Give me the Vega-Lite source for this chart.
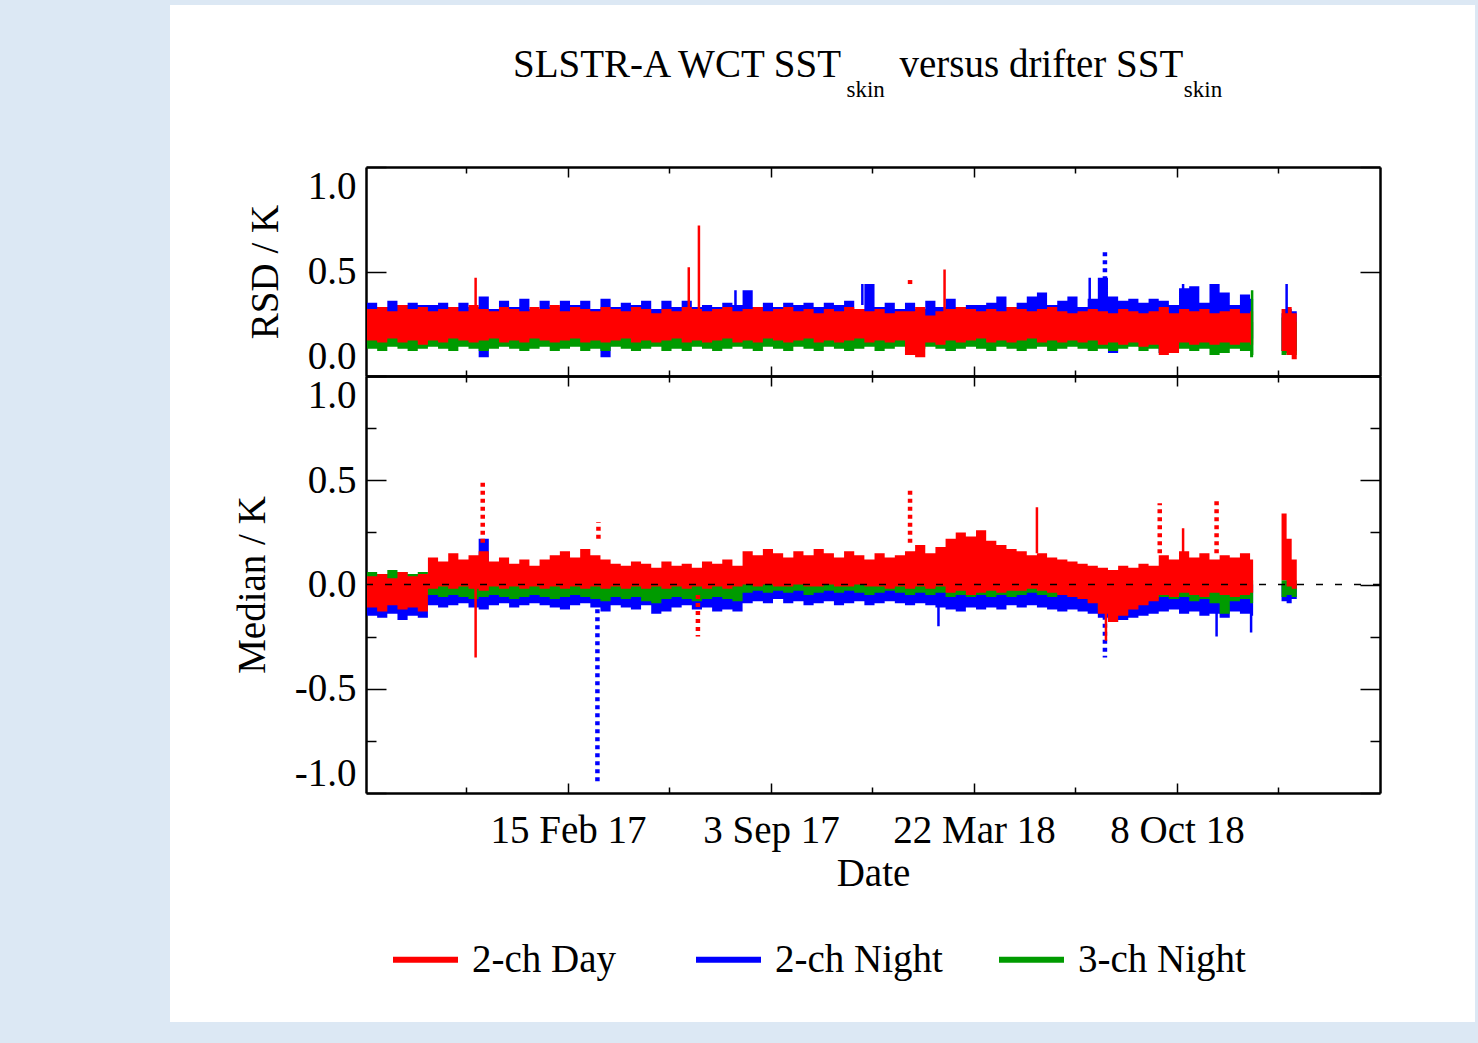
{
"$schema": "https://vega.github.io/schema/vega-lite/v6.json",
"width": 1305, "height": 1017,
"autosize": {"type": "none"},
"padding": {"left": 170, "top": 5, "right": 3, "bottom": 21},
"background": "#dce8f4",
"config": {
  "view": {"fill": "white", "stroke": null},
  "axis": {"domainColor": "black", "domainWidth": 2.5, "tickColor": "black", "tickWidth": 1.5, "labelFont": "Liberation Serif", "labelFontSize": 39, "labelColor": "black", "titleFont": "Liberation Serif", "titleFontSize": 39, "titleFontWeight": "normal", "titleColor": "black", "grid": false, "zindex": 1}
},
"title": {"text": "SLSTR-A WCT SST\u00a0\u00a0\u00a0\u00a0\u00a0\u00a0versus drifter SST", "subtitle": "\u200b\u00a0\u00a0\u00a0\u00a0\u00a0\u00a0\u00a0\u00a0\u00a0\u00a0\u00a0\u00a0\u00a0\u00a0\u00a0\u00a0\u00a0\u00a0\u00a0\u00a0\u00a0\u00a0\u00a0\u00a0\u00a0\u00a0\u00a0\u00a0\u00a0\u00a0\u00a0\u00a0\u00a0\u00a0\u00a0\u00a0\u00a0\u00a0\u00a0\u00a0\u00a0\u00a0\u00a0\u00a0\u00a0\u00a0\u00a0\u00a0\u00a0\u00a0\u00a0\u00a0\u00a0\u00a0\u00a0\u00a0\u00a0\u00a0skin\u00a0\u00a0\u00a0\u00a0\u00a0\u00a0\u00a0\u00a0\u00a0\u00a0\u00a0\u00a0\u00a0\u00a0\u00a0\u00a0\u00a0\u00a0\u00a0\u00a0\u00a0\u00a0\u00a0\u00a0\u00a0\u00a0\u00a0\u00a0\u00a0\u00a0\u00a0\u00a0\u00a0\u00a0\u00a0\u00a0\u00a0\u00a0\u00a0\u00a0\u00a0\u00a0\u00a0\u00a0\u00a0\u00a0\u00a0\u00a0\u00a0\u00a0\u00a0\u00a0skin", "anchor": "start", "frame": "group", "orient": "top", "offset": -97, "dx": 343, "font": "Liberation Serif", "fontSize": 39, "fontWeight": "normal", "color": "black", "subtitleFont": "Liberation Serif", "subtitleFontSize": 23, "subtitleColor": "black", "subtitlePadding": -6},
"datasets": {
"bands": [
{"d":"2016-08-01","s":"2-ch Night","g":1,"rl":0.19,"rh":0.35,"ml":-0.15,"mh":0.00},
{"d":"2016-08-11","s":"2-ch Night","g":1,"rl":0.20,"rh":0.33,"ml":-0.16,"mh":-0.01},
{"d":"2016-08-21","s":"2-ch Night","g":1,"rl":0.19,"rh":0.36,"ml":-0.14,"mh":0.01},
{"d":"2016-08-31","s":"2-ch Night","g":1,"rl":0.21,"rh":0.34,"ml":-0.17,"mh":0.00},
{"d":"2016-09-10","s":"2-ch Night","g":1,"rl":0.20,"rh":0.35,"ml":-0.15,"mh":-0.01},
{"d":"2016-09-20","s":"2-ch Night","g":1,"rl":0.19,"rh":0.34,"ml":-0.16,"mh":0.00},
{"d":"2016-09-30","s":"2-ch Night","g":1,"rl":0.20,"rh":0.34,"ml":-0.10,"mh":0.02},
{"d":"2016-10-10","s":"2-ch Night","g":1,"rl":0.21,"rh":0.35,"ml":-0.11,"mh":0.01},
{"d":"2016-10-20","s":"2-ch Night","g":1,"rl":0.20,"rh":0.33,"ml":-0.10,"mh":0.03},
{"d":"2016-10-30","s":"2-ch Night","g":1,"rl":0.19,"rh":0.35,"ml":-0.09,"mh":0.02},
{"d":"2016-11-09","s":"2-ch Night","g":1,"rl":0.20,"rh":0.33,"ml":-0.11,"mh":0.04},
{"d":"2016-11-19","s":"2-ch Night","g":1,"rl":0.09,"rh":0.38,"ml":-0.12,"mh":0.22},
{"d":"2016-11-29","s":"2-ch Night","g":1,"rl":0.20,"rh":0.32,"ml":-0.10,"mh":0.02},
{"d":"2016-12-09","s":"2-ch Night","g":1,"rl":0.21,"rh":0.36,"ml":-0.09,"mh":0.03},
{"d":"2016-12-19","s":"2-ch Night","g":1,"rl":0.20,"rh":0.33,"ml":-0.11,"mh":0.01},
{"d":"2016-12-29","s":"2-ch Night","g":1,"rl":0.19,"rh":0.37,"ml":-0.10,"mh":0.02},
{"d":"2017-01-08","s":"2-ch Night","g":1,"rl":0.20,"rh":0.32,"ml":-0.09,"mh":0.03},
{"d":"2017-01-18","s":"2-ch Night","g":1,"rl":0.21,"rh":0.36,"ml":-0.10,"mh":0.02},
{"d":"2017-01-28","s":"2-ch Night","g":1,"rl":0.20,"rh":0.33,"ml":-0.11,"mh":0.04},
{"d":"2017-02-07","s":"2-ch Night","g":1,"rl":0.19,"rh":0.36,"ml":-0.12,"mh":0.05},
{"d":"2017-02-17","s":"2-ch Night","g":1,"rl":0.20,"rh":0.34,"ml":-0.10,"mh":0.03},
{"d":"2017-02-27","s":"2-ch Night","g":1,"rl":0.21,"rh":0.36,"ml":-0.09,"mh":0.02},
{"d":"2017-03-09","s":"2-ch Night","g":1,"rl":0.20,"rh":0.32,"ml":-0.11,"mh":0.03},
{"d":"2017-03-19","s":"2-ch Night","g":1,"rl":0.09,"rh":0.37,"ml":-0.13,"mh":0.02},
{"d":"2017-03-29","s":"2-ch Night","g":1,"rl":0.20,"rh":0.33,"ml":-0.10,"mh":0.03},
{"d":"2017-04-08","s":"2-ch Night","g":1,"rl":0.21,"rh":0.35,"ml":-0.11,"mh":0.01},
{"d":"2017-04-18","s":"2-ch Night","g":1,"rl":0.20,"rh":0.34,"ml":-0.12,"mh":0.02},
{"d":"2017-04-28","s":"2-ch Night","g":1,"rl":0.19,"rh":0.36,"ml":-0.10,"mh":0.00},
{"d":"2017-05-08","s":"2-ch Night","g":1,"rl":0.20,"rh":0.32,"ml":-0.14,"mh":0.01},
{"d":"2017-05-18","s":"2-ch Night","g":1,"rl":0.21,"rh":0.36,"ml":-0.13,"mh":0.02},
{"d":"2017-05-28","s":"2-ch Night","g":1,"rl":0.20,"rh":0.33,"ml":-0.11,"mh":0.01},
{"d":"2017-06-07","s":"2-ch Night","g":1,"rl":0.19,"rh":0.36,"ml":-0.10,"mh":0.00},
{"d":"2017-06-17","s":"2-ch Night","g":1,"rl":0.20,"rh":0.33,"ml":-0.12,"mh":0.02},
{"d":"2017-06-27","s":"2-ch Night","g":1,"rl":0.14,"rh":0.34,"ml":-0.11,"mh":0.01},
{"d":"2017-07-07","s":"2-ch Night","g":1,"rl":0.20,"rh":0.33,"ml":-0.13,"mh":0.00},
{"d":"2017-07-17","s":"2-ch Night","g":1,"rl":0.21,"rh":0.35,"ml":-0.12,"mh":0.02},
{"d":"2017-07-27","s":"2-ch Night","g":1,"rl":0.20,"rh":0.34,"ml":-0.13,"mh":0.01},
{"d":"2017-08-06","s":"2-ch Night","g":1,"rl":0.19,"rh":0.41,"ml":-0.09,"mh":0.03},
{"d":"2017-08-16","s":"2-ch Night","g":1,"rl":0.20,"rh":0.33,"ml":-0.08,"mh":0.02},
{"d":"2017-08-26","s":"2-ch Night","g":1,"rl":0.21,"rh":0.35,"ml":-0.09,"mh":0.03},
{"d":"2017-09-05","s":"2-ch Night","g":1,"rl":0.20,"rh":0.33,"ml":-0.07,"mh":0.02},
{"d":"2017-09-15","s":"2-ch Night","g":1,"rl":0.19,"rh":0.35,"ml":-0.09,"mh":0.03},
{"d":"2017-09-25","s":"2-ch Night","g":1,"rl":0.20,"rh":0.34,"ml":-0.08,"mh":0.02},
{"d":"2017-10-05","s":"2-ch Night","g":1,"rl":0.21,"rh":0.35,"ml":-0.10,"mh":0.03},
{"d":"2017-10-15","s":"2-ch Night","g":1,"rl":0.20,"rh":0.33,"ml":-0.09,"mh":0.02},
{"d":"2017-10-25","s":"2-ch Night","g":1,"rl":0.19,"rh":0.35,"ml":-0.08,"mh":0.03},
{"d":"2017-11-04","s":"2-ch Night","g":1,"rl":0.20,"rh":0.34,"ml":-0.10,"mh":0.04},
{"d":"2017-11-14","s":"2-ch Night","g":1,"rl":0.21,"rh":0.36,"ml":-0.09,"mh":0.02},
{"d":"2017-11-24","s":"2-ch Night","g":1,"rl":0.20,"rh":0.32,"ml":-0.08,"mh":0.03},
{"d":"2017-12-04","s":"2-ch Night","g":1,"rl":0.19,"rh":0.44,"ml":-0.10,"mh":0.02},
{"d":"2017-12-14","s":"2-ch Night","g":1,"rl":0.20,"rh":0.33,"ml":-0.09,"mh":0.03},
{"d":"2017-12-24","s":"2-ch Night","g":1,"rl":0.21,"rh":0.35,"ml":-0.08,"mh":0.02},
{"d":"2018-01-03","s":"2-ch Night","g":1,"rl":0.20,"rh":0.32,"ml":-0.09,"mh":0.03},
{"d":"2018-01-13","s":"2-ch Night","g":1,"rl":0.19,"rh":0.35,"ml":-0.10,"mh":0.02},
{"d":"2018-01-23","s":"2-ch Night","g":1,"rl":0.20,"rh":0.32,"ml":-0.09,"mh":0.03},
{"d":"2018-02-02","s":"2-ch Night","g":1,"rl":0.19,"rh":0.36,"ml":-0.10,"mh":0.02},
{"d":"2018-02-12","s":"2-ch Night","g":1,"rl":0.20,"rh":0.33,"ml":-0.11,"mh":0.03},
{"d":"2018-02-22","s":"2-ch Night","g":1,"rl":0.12,"rh":0.37,"ml":-0.12,"mh":0.04},
{"d":"2018-03-04","s":"2-ch Night","g":1,"rl":0.20,"rh":0.33,"ml":-0.13,"mh":0.03},
{"d":"2018-03-14","s":"2-ch Night","g":1,"rl":0.19,"rh":0.34,"ml":-0.11,"mh":0.02},
{"d":"2018-03-24","s":"2-ch Night","g":1,"rl":0.20,"rh":0.34,"ml":-0.12,"mh":0.04},
{"d":"2018-04-03","s":"2-ch Night","g":1,"rl":0.21,"rh":0.35,"ml":-0.11,"mh":0.03},
{"d":"2018-04-13","s":"2-ch Night","g":1,"rl":0.20,"rh":0.38,"ml":-0.12,"mh":0.02},
{"d":"2018-04-23","s":"2-ch Night","g":1,"rl":0.19,"rh":0.33,"ml":-0.10,"mh":0.03},
{"d":"2018-05-03","s":"2-ch Night","g":1,"rl":0.20,"rh":0.35,"ml":-0.11,"mh":0.02},
{"d":"2018-05-13","s":"2-ch Night","g":1,"rl":0.19,"rh":0.38,"ml":-0.10,"mh":0.01},
{"d":"2018-05-23","s":"2-ch Night","g":1,"rl":0.20,"rh":0.40,"ml":-0.11,"mh":0.03},
{"d":"2018-06-02","s":"2-ch Night","g":1,"rl":0.21,"rh":0.34,"ml":-0.12,"mh":0.02},
{"d":"2018-06-12","s":"2-ch Night","g":1,"rl":0.20,"rh":0.36,"ml":-0.13,"mh":0.01},
{"d":"2018-06-22","s":"2-ch Night","g":1,"rl":0.19,"rh":0.38,"ml":-0.12,"mh":0.00},
{"d":"2018-07-02","s":"2-ch Night","g":1,"rl":0.20,"rh":0.33,"ml":-0.13,"mh":0.01},
{"d":"2018-07-12","s":"2-ch Night","g":1,"rl":0.19,"rh":0.37,"ml":-0.14,"mh":0.00},
{"d":"2018-07-22","s":"2-ch Night","g":1,"rl":0.18,"rh":0.47,"ml":-0.16,"mh":-0.02},
{"d":"2018-08-01","s":"2-ch Night","g":1,"rl":0.11,"rh":0.38,"ml":-0.18,"mh":-0.03},
{"d":"2018-08-11","s":"2-ch Night","g":1,"rl":0.17,"rh":0.36,"ml":-0.17,"mh":-0.02},
{"d":"2018-08-21","s":"2-ch Night","g":1,"rl":0.18,"rh":0.37,"ml":-0.16,"mh":-0.01},
{"d":"2018-08-31","s":"2-ch Night","g":1,"rl":0.19,"rh":0.35,"ml":-0.15,"mh":0.00},
{"d":"2018-09-10","s":"2-ch Night","g":1,"rl":0.18,"rh":0.37,"ml":-0.14,"mh":0.01},
{"d":"2018-09-20","s":"2-ch Night","g":1,"rl":0.11,"rh":0.36,"ml":-0.13,"mh":0.02},
{"d":"2018-09-30","s":"2-ch Night","g":1,"rl":0.18,"rh":0.34,"ml":-0.12,"mh":0.01},
{"d":"2018-10-10","s":"2-ch Night","g":1,"rl":0.19,"rh":0.42,"ml":-0.14,"mh":0.00},
{"d":"2018-10-20","s":"2-ch Night","g":1,"rl":0.18,"rh":0.43,"ml":-0.13,"mh":0.01},
{"d":"2018-10-30","s":"2-ch Night","g":1,"rl":0.19,"rh":0.35,"ml":-0.15,"mh":0.02},
{"d":"2018-11-09","s":"2-ch Night","g":1,"rl":0.18,"rh":0.44,"ml":-0.14,"mh":0.01},
{"d":"2018-11-19","s":"2-ch Night","g":1,"rl":0.19,"rh":0.40,"ml":-0.16,"mh":0.03},
{"d":"2018-11-29","s":"2-ch Night","g":1,"rl":0.18,"rh":0.34,"ml":-0.13,"mh":0.02},
{"d":"2018-12-09","s":"2-ch Night","g":1,"rl":0.19,"rh":0.39,"ml":-0.14,"mh":0.01},
{"d":"2018-12-19","s":"2-ch Night","g":1,"rl":0.18,"rh":0.37,"ml":-0.15,"mh":0.00},
{"d":"2018-12-22","s":"2-ch Night","g":1,"rl":0.18,"rh":0.37,"ml":-0.15,"mh":0.00},
{"d":"2019-01-19","s":"2-ch Night","g":2,"rl":0.12,"rh":0.30,"ml":-0.08,"mh":0.00},
{"d":"2019-01-24","s":"2-ch Night","g":2,"rl":0.13,"rh":0.32,"ml":-0.09,"mh":0.01},
{"d":"2019-01-29","s":"2-ch Night","g":2,"rl":0.12,"rh":0.31,"ml":-0.07,"mh":0.00},
{"d":"2019-02-03","s":"2-ch Night","g":2,"rl":0.12,"rh":0.31,"ml":-0.07,"mh":0.00},

{"d":"2016-08-01","s":"3-ch Night","g":1,"rl":0.13,"rh":0.27,"ml":-0.05,"mh":0.06},
{"d":"2016-08-11","s":"3-ch Night","g":1,"rl":0.12,"rh":0.26,"ml":-0.06,"mh":0.05},
{"d":"2016-08-21","s":"3-ch Night","g":1,"rl":0.14,"rh":0.27,"ml":-0.04,"mh":0.07},
{"d":"2016-08-31","s":"3-ch Night","g":1,"rl":0.13,"rh":0.28,"ml":-0.05,"mh":0.06},
{"d":"2016-09-10","s":"3-ch Night","g":1,"rl":0.12,"rh":0.26,"ml":-0.06,"mh":0.05},
{"d":"2016-09-20","s":"3-ch Night","g":1,"rl":0.13,"rh":0.27,"ml":-0.05,"mh":0.06},
{"d":"2016-09-30","s":"3-ch Night","g":1,"rl":0.14,"rh":0.27,"ml":-0.05,"mh":0.03},
{"d":"2016-10-10","s":"3-ch Night","g":1,"rl":0.13,"rh":0.26,"ml":-0.06,"mh":0.02},
{"d":"2016-10-20","s":"3-ch Night","g":1,"rl":0.12,"rh":0.27,"ml":-0.05,"mh":0.03},
{"d":"2016-10-30","s":"3-ch Night","g":1,"rl":0.14,"rh":0.28,"ml":-0.06,"mh":0.02},
{"d":"2016-11-09","s":"3-ch Night","g":1,"rl":0.13,"rh":0.27,"ml":-0.07,"mh":0.03},
{"d":"2016-11-19","s":"3-ch Night","g":1,"rl":0.12,"rh":0.26,"ml":-0.06,"mh":0.02},
{"d":"2016-11-29","s":"3-ch Night","g":1,"rl":0.13,"rh":0.27,"ml":-0.05,"mh":0.03},
{"d":"2016-12-09","s":"3-ch Night","g":1,"rl":0.14,"rh":0.28,"ml":-0.06,"mh":0.02},
{"d":"2016-12-19","s":"3-ch Night","g":1,"rl":0.13,"rh":0.27,"ml":-0.07,"mh":0.03},
{"d":"2016-12-29","s":"3-ch Night","g":1,"rl":0.12,"rh":0.26,"ml":-0.06,"mh":0.02},
{"d":"2017-01-08","s":"3-ch Night","g":1,"rl":0.13,"rh":0.27,"ml":-0.05,"mh":0.03},
{"d":"2017-01-18","s":"3-ch Night","g":1,"rl":0.14,"rh":0.28,"ml":-0.06,"mh":0.02},
{"d":"2017-01-28","s":"3-ch Night","g":1,"rl":0.12,"rh":0.27,"ml":-0.07,"mh":0.03},
{"d":"2017-02-07","s":"3-ch Night","g":1,"rl":0.13,"rh":0.26,"ml":-0.06,"mh":0.02},
{"d":"2017-02-17","s":"3-ch Night","g":1,"rl":0.14,"rh":0.27,"ml":-0.05,"mh":0.03},
{"d":"2017-02-27","s":"3-ch Night","g":1,"rl":0.12,"rh":0.28,"ml":-0.06,"mh":0.04},
{"d":"2017-03-09","s":"3-ch Night","g":1,"rl":0.13,"rh":0.27,"ml":-0.07,"mh":0.03},
{"d":"2017-03-19","s":"3-ch Night","g":1,"rl":0.12,"rh":0.26,"ml":-0.08,"mh":0.02},
{"d":"2017-03-29","s":"3-ch Night","g":1,"rl":0.14,"rh":0.27,"ml":-0.06,"mh":0.03},
{"d":"2017-04-08","s":"3-ch Night","g":1,"rl":0.13,"rh":0.28,"ml":-0.07,"mh":0.02},
{"d":"2017-04-18","s":"3-ch Night","g":1,"rl":0.12,"rh":0.27,"ml":-0.06,"mh":0.03},
{"d":"2017-04-28","s":"3-ch Night","g":1,"rl":0.13,"rh":0.26,"ml":-0.08,"mh":0.02},
{"d":"2017-05-08","s":"3-ch Night","g":1,"rl":0.14,"rh":0.27,"ml":-0.09,"mh":0.01},
{"d":"2017-05-18","s":"3-ch Night","g":1,"rl":0.12,"rh":0.28,"ml":-0.07,"mh":0.02},
{"d":"2017-05-28","s":"3-ch Night","g":1,"rl":0.13,"rh":0.27,"ml":-0.06,"mh":0.03},
{"d":"2017-06-07","s":"3-ch Night","g":1,"rl":0.12,"rh":0.26,"ml":-0.07,"mh":0.02},
{"d":"2017-06-17","s":"3-ch Night","g":1,"rl":0.14,"rh":0.27,"ml":-0.08,"mh":0.01},
{"d":"2017-06-27","s":"3-ch Night","g":1,"rl":0.13,"rh":0.28,"ml":-0.07,"mh":0.02},
{"d":"2017-07-07","s":"3-ch Night","g":1,"rl":0.12,"rh":0.27,"ml":-0.06,"mh":0.03},
{"d":"2017-07-17","s":"3-ch Night","g":1,"rl":0.13,"rh":0.26,"ml":-0.07,"mh":0.02},
{"d":"2017-07-27","s":"3-ch Night","g":1,"rl":0.14,"rh":0.27,"ml":-0.08,"mh":0.01},
{"d":"2017-08-06","s":"3-ch Night","g":1,"rl":0.13,"rh":0.28,"ml":-0.04,"mh":0.03},
{"d":"2017-08-16","s":"3-ch Night","g":1,"rl":0.12,"rh":0.27,"ml":-0.03,"mh":0.02},
{"d":"2017-08-26","s":"3-ch Night","g":1,"rl":0.14,"rh":0.26,"ml":-0.04,"mh":0.03},
{"d":"2017-09-05","s":"3-ch Night","g":1,"rl":0.13,"rh":0.27,"ml":-0.03,"mh":0.02},
{"d":"2017-09-15","s":"3-ch Night","g":1,"rl":0.12,"rh":0.28,"ml":-0.04,"mh":0.03},
{"d":"2017-09-25","s":"3-ch Night","g":1,"rl":0.14,"rh":0.27,"ml":-0.03,"mh":0.02},
{"d":"2017-10-05","s":"3-ch Night","g":1,"rl":0.13,"rh":0.26,"ml":-0.05,"mh":0.03},
{"d":"2017-10-15","s":"3-ch Night","g":1,"rl":0.12,"rh":0.27,"ml":-0.04,"mh":0.02},
{"d":"2017-10-25","s":"3-ch Night","g":1,"rl":0.14,"rh":0.28,"ml":-0.03,"mh":0.03},
{"d":"2017-11-04","s":"3-ch Night","g":1,"rl":0.13,"rh":0.27,"ml":-0.04,"mh":0.02},
{"d":"2017-11-14","s":"3-ch Night","g":1,"rl":0.12,"rh":0.26,"ml":-0.03,"mh":0.03},
{"d":"2017-11-24","s":"3-ch Night","g":1,"rl":0.13,"rh":0.27,"ml":-0.04,"mh":0.02},
{"d":"2017-12-04","s":"3-ch Night","g":1,"rl":0.14,"rh":0.28,"ml":-0.05,"mh":0.03},
{"d":"2017-12-14","s":"3-ch Night","g":1,"rl":0.12,"rh":0.27,"ml":-0.04,"mh":0.02},
{"d":"2017-12-24","s":"3-ch Night","g":1,"rl":0.13,"rh":0.26,"ml":-0.03,"mh":0.03},
{"d":"2018-01-03","s":"3-ch Night","g":1,"rl":0.14,"rh":0.27,"ml":-0.04,"mh":0.02},
{"d":"2018-01-13","s":"3-ch Night","g":1,"rl":0.12,"rh":0.28,"ml":-0.05,"mh":0.03},
{"d":"2018-01-23","s":"3-ch Night","g":1,"rl":0.13,"rh":0.27,"ml":-0.04,"mh":0.02},
{"d":"2018-02-02","s":"3-ch Night","g":1,"rl":0.14,"rh":0.26,"ml":-0.05,"mh":0.03},
{"d":"2018-02-12","s":"3-ch Night","g":1,"rl":0.13,"rh":0.27,"ml":-0.04,"mh":0.02},
{"d":"2018-02-22","s":"3-ch Night","g":1,"rl":0.12,"rh":0.28,"ml":-0.06,"mh":0.03},
{"d":"2018-03-04","s":"3-ch Night","g":1,"rl":0.13,"rh":0.27,"ml":-0.05,"mh":0.02},
{"d":"2018-03-14","s":"3-ch Night","g":1,"rl":0.14,"rh":0.26,"ml":-0.06,"mh":0.03},
{"d":"2018-03-24","s":"3-ch Night","g":1,"rl":0.13,"rh":0.27,"ml":-0.05,"mh":0.02},
{"d":"2018-04-03","s":"3-ch Night","g":1,"rl":0.12,"rh":0.28,"ml":-0.06,"mh":0.03},
{"d":"2018-04-13","s":"3-ch Night","g":1,"rl":0.14,"rh":0.27,"ml":-0.05,"mh":0.02},
{"d":"2018-04-23","s":"3-ch Night","g":1,"rl":0.13,"rh":0.26,"ml":-0.06,"mh":0.03},
{"d":"2018-05-03","s":"3-ch Night","g":1,"rl":0.12,"rh":0.27,"ml":-0.05,"mh":0.02},
{"d":"2018-05-13","s":"3-ch Night","g":1,"rl":0.13,"rh":0.28,"ml":-0.04,"mh":0.03},
{"d":"2018-05-23","s":"3-ch Night","g":1,"rl":0.14,"rh":0.27,"ml":-0.05,"mh":0.02},
{"d":"2018-06-02","s":"3-ch Night","g":1,"rl":0.12,"rh":0.26,"ml":-0.06,"mh":0.03},
{"d":"2018-06-12","s":"3-ch Night","g":1,"rl":0.13,"rh":0.27,"ml":-0.05,"mh":0.02},
{"d":"2018-06-22","s":"3-ch Night","g":1,"rl":0.14,"rh":0.28,"ml":-0.06,"mh":0.01},
{"d":"2018-07-02","s":"3-ch Night","g":1,"rl":0.13,"rh":0.27,"ml":-0.07,"mh":0.02},
{"d":"2018-07-12","s":"3-ch Night","g":1,"rl":0.12,"rh":0.26,"ml":-0.08,"mh":0.01},
{"d":"2018-07-22","s":"3-ch Night","g":1,"rl":0.13,"rh":0.27,"ml":-0.12,"mh":0.00},
{"d":"2018-08-01","s":"3-ch Night","g":1,"rl":0.12,"rh":0.28,"ml":-0.14,"mh":-0.01},
{"d":"2018-08-11","s":"3-ch Night","g":1,"rl":0.13,"rh":0.27,"ml":-0.12,"mh":0.00},
{"d":"2018-08-21","s":"3-ch Night","g":1,"rl":0.14,"rh":0.26,"ml":-0.10,"mh":0.01},
{"d":"2018-08-31","s":"3-ch Night","g":1,"rl":0.12,"rh":0.27,"ml":-0.08,"mh":0.02},
{"d":"2018-09-10","s":"3-ch Night","g":1,"rl":0.13,"rh":0.28,"ml":-0.07,"mh":0.01},
{"d":"2018-09-20","s":"3-ch Night","g":1,"rl":0.11,"rh":0.27,"ml":-0.06,"mh":0.03},
{"d":"2018-09-30","s":"3-ch Night","g":1,"rl":0.12,"rh":0.26,"ml":-0.07,"mh":0.02},
{"d":"2018-10-10","s":"3-ch Night","g":1,"rl":0.13,"rh":0.27,"ml":-0.06,"mh":0.03},
{"d":"2018-10-20","s":"3-ch Night","g":1,"rl":0.12,"rh":0.28,"ml":-0.08,"mh":0.02},
{"d":"2018-10-30","s":"3-ch Night","g":1,"rl":0.13,"rh":0.27,"ml":-0.07,"mh":0.03},
{"d":"2018-11-09","s":"3-ch Night","g":1,"rl":0.10,"rh":0.26,"ml":-0.09,"mh":0.02},
{"d":"2018-11-19","s":"3-ch Night","g":1,"rl":0.11,"rh":0.27,"ml":-0.14,"mh":0.03},
{"d":"2018-11-29","s":"3-ch Night","g":1,"rl":0.13,"rh":0.28,"ml":-0.08,"mh":0.02},
{"d":"2018-12-09","s":"3-ch Night","g":1,"rl":0.12,"rh":0.27,"ml":-0.07,"mh":0.03},
{"d":"2018-12-19","s":"3-ch Night","g":1,"rl":0.09,"rh":0.26,"ml":-0.09,"mh":0.02},
{"d":"2018-12-22","s":"3-ch Night","g":1,"rl":0.09,"rh":0.26,"ml":-0.09,"mh":0.02},
{"d":"2019-01-19","s":"3-ch Night","g":2,"rl":0.10,"rh":0.28,"ml":-0.06,"mh":0.02},
{"d":"2019-01-24","s":"3-ch Night","g":2,"rl":0.11,"rh":0.27,"ml":-0.05,"mh":0.03},
{"d":"2019-01-29","s":"3-ch Night","g":2,"rl":0.10,"rh":0.26,"ml":-0.06,"mh":0.02},
{"d":"2019-02-03","s":"3-ch Night","g":2,"rl":0.10,"rh":0.26,"ml":-0.06,"mh":0.02},

{"d":"2016-08-01","s":"2-ch Day","g":1,"rl":0.17,"rh":0.32,"ml":-0.11,"mh":0.04},
{"d":"2016-08-11","s":"2-ch Day","g":1,"rl":0.16,"rh":0.33,"ml":-0.13,"mh":0.05},
{"d":"2016-08-21","s":"2-ch Day","g":1,"rl":0.18,"rh":0.31,"ml":-0.10,"mh":0.03},
{"d":"2016-08-31","s":"2-ch Day","g":1,"rl":0.16,"rh":0.34,"ml":-0.12,"mh":0.06},
{"d":"2016-09-10","s":"2-ch Day","g":1,"rl":0.17,"rh":0.32,"ml":-0.11,"mh":0.04},
{"d":"2016-09-20","s":"2-ch Day","g":1,"rl":0.15,"rh":0.33,"ml":-0.13,"mh":0.05},
{"d":"2016-09-30","s":"2-ch Day","g":1,"rl":0.17,"rh":0.31,"ml":-0.02,"mh":0.13},
{"d":"2016-10-10","s":"2-ch Day","g":1,"rl":0.16,"rh":0.32,"ml":-0.01,"mh":0.11},
{"d":"2016-10-20","s":"2-ch Day","g":1,"rl":0.18,"rh":0.33,"ml":-0.02,"mh":0.15},
{"d":"2016-10-30","s":"2-ch Day","g":1,"rl":0.17,"rh":0.31,"ml":-0.01,"mh":0.12},
{"d":"2016-11-09","s":"2-ch Day","g":1,"rl":0.16,"rh":0.34,"ml":-0.02,"mh":0.14},
{"d":"2016-11-19","s":"2-ch Day","g":1,"rl":0.17,"rh":0.32,"ml":-0.03,"mh":0.16},
{"d":"2016-11-29","s":"2-ch Day","g":1,"rl":0.18,"rh":0.31,"ml":-0.01,"mh":0.11},
{"d":"2016-12-09","s":"2-ch Day","g":1,"rl":0.16,"rh":0.33,"ml":-0.02,"mh":0.13},
{"d":"2016-12-19","s":"2-ch Day","g":1,"rl":0.17,"rh":0.32,"ml":-0.01,"mh":0.10},
{"d":"2016-12-29","s":"2-ch Day","g":1,"rl":0.16,"rh":0.31,"ml":-0.02,"mh":0.12},
{"d":"2017-01-08","s":"2-ch Day","g":1,"rl":0.18,"rh":0.33,"ml":-0.01,"mh":0.09},
{"d":"2017-01-18","s":"2-ch Day","g":1,"rl":0.17,"rh":0.32,"ml":-0.02,"mh":0.12},
{"d":"2017-01-28","s":"2-ch Day","g":1,"rl":0.16,"rh":0.34,"ml":-0.01,"mh":0.14},
{"d":"2017-02-07","s":"2-ch Day","g":1,"rl":0.17,"rh":0.31,"ml":-0.02,"mh":0.16},
{"d":"2017-02-17","s":"2-ch Day","g":1,"rl":0.18,"rh":0.33,"ml":-0.01,"mh":0.13},
{"d":"2017-02-27","s":"2-ch Day","g":1,"rl":0.16,"rh":0.32,"ml":-0.02,"mh":0.17},
{"d":"2017-03-09","s":"2-ch Day","g":1,"rl":0.17,"rh":0.31,"ml":-0.01,"mh":0.14},
{"d":"2017-03-19","s":"2-ch Day","g":1,"rl":0.16,"rh":0.33,"ml":-0.02,"mh":0.12},
{"d":"2017-03-29","s":"2-ch Day","g":1,"rl":0.17,"rh":0.32,"ml":-0.01,"mh":0.10},
{"d":"2017-04-08","s":"2-ch Day","g":1,"rl":0.18,"rh":0.31,"ml":-0.02,"mh":0.09},
{"d":"2017-04-18","s":"2-ch Day","g":1,"rl":0.16,"rh":0.33,"ml":-0.01,"mh":0.11},
{"d":"2017-04-28","s":"2-ch Day","g":1,"rl":0.17,"rh":0.32,"ml":-0.02,"mh":0.10},
{"d":"2017-05-08","s":"2-ch Day","g":1,"rl":0.16,"rh":0.30,"ml":-0.01,"mh":0.08},
{"d":"2017-05-18","s":"2-ch Day","g":1,"rl":0.17,"rh":0.32,"ml":-0.02,"mh":0.11},
{"d":"2017-05-28","s":"2-ch Day","g":1,"rl":0.18,"rh":0.31,"ml":-0.01,"mh":0.09},
{"d":"2017-06-07","s":"2-ch Day","g":1,"rl":0.16,"rh":0.33,"ml":-0.02,"mh":0.10},
{"d":"2017-06-17","s":"2-ch Day","g":1,"rl":0.17,"rh":0.32,"ml":-0.01,"mh":0.08},
{"d":"2017-06-27","s":"2-ch Day","g":1,"rl":0.16,"rh":0.31,"ml":-0.02,"mh":0.11},
{"d":"2017-07-07","s":"2-ch Day","g":1,"rl":0.17,"rh":0.32,"ml":-0.01,"mh":0.10},
{"d":"2017-07-17","s":"2-ch Day","g":1,"rl":0.18,"rh":0.33,"ml":-0.02,"mh":0.12},
{"d":"2017-07-27","s":"2-ch Day","g":1,"rl":0.16,"rh":0.31,"ml":-0.01,"mh":0.09},
{"d":"2017-08-06","s":"2-ch Day","g":1,"rl":0.17,"rh":0.32,"ml":0.00,"mh":0.16},
{"d":"2017-08-16","s":"2-ch Day","g":1,"rl":0.16,"rh":0.33,"ml":-0.01,"mh":0.14},
{"d":"2017-08-26","s":"2-ch Day","g":1,"rl":0.18,"rh":0.31,"ml":0.00,"mh":0.17},
{"d":"2017-09-05","s":"2-ch Day","g":1,"rl":0.17,"rh":0.32,"ml":-0.01,"mh":0.15},
{"d":"2017-09-15","s":"2-ch Day","g":1,"rl":0.16,"rh":0.33,"ml":-0.01,"mh":0.13},
{"d":"2017-09-25","s":"2-ch Day","g":1,"rl":0.17,"rh":0.31,"ml":0.00,"mh":0.16},
{"d":"2017-10-05","s":"2-ch Day","g":1,"rl":0.18,"rh":0.32,"ml":-0.01,"mh":0.14},
{"d":"2017-10-15","s":"2-ch Day","g":1,"rl":0.16,"rh":0.30,"ml":-0.01,"mh":0.17},
{"d":"2017-10-25","s":"2-ch Day","g":1,"rl":0.17,"rh":0.32,"ml":0.00,"mh":0.15},
{"d":"2017-11-04","s":"2-ch Day","g":1,"rl":0.16,"rh":0.31,"ml":-0.01,"mh":0.13},
{"d":"2017-11-14","s":"2-ch Day","g":1,"rl":0.17,"rh":0.33,"ml":-0.01,"mh":0.16},
{"d":"2017-11-24","s":"2-ch Day","g":1,"rl":0.18,"rh":0.32,"ml":0.00,"mh":0.14},
{"d":"2017-12-04","s":"2-ch Day","g":1,"rl":0.16,"rh":0.31,"ml":-0.01,"mh":0.12},
{"d":"2017-12-14","s":"2-ch Day","g":1,"rl":0.17,"rh":0.32,"ml":-0.01,"mh":0.15},
{"d":"2017-12-24","s":"2-ch Day","g":1,"rl":0.16,"rh":0.30,"ml":-0.02,"mh":0.13},
{"d":"2018-01-03","s":"2-ch Day","g":1,"rl":0.17,"rh":0.31,"ml":-0.01,"mh":0.14},
{"d":"2018-01-13","s":"2-ch Day","g":1,"rl":0.10,"rh":0.31,"ml":-0.02,"mh":0.16},
{"d":"2018-01-23","s":"2-ch Day","g":1,"rl":0.09,"rh":0.33,"ml":-0.01,"mh":0.19},
{"d":"2018-02-02","s":"2-ch Day","g":1,"rl":0.16,"rh":0.29,"ml":-0.02,"mh":0.15},
{"d":"2018-02-12","s":"2-ch Day","g":1,"rl":0.15,"rh":0.31,"ml":-0.01,"mh":0.18},
{"d":"2018-02-22","s":"2-ch Day","g":1,"rl":0.17,"rh":0.32,"ml":-0.04,"mh":0.22},
{"d":"2018-03-04","s":"2-ch Day","g":1,"rl":0.16,"rh":0.33,"ml":-0.03,"mh":0.25},
{"d":"2018-03-14","s":"2-ch Day","g":1,"rl":0.17,"rh":0.32,"ml":-0.05,"mh":0.23},
{"d":"2018-03-24","s":"2-ch Day","g":1,"rl":0.18,"rh":0.31,"ml":-0.04,"mh":0.26},
{"d":"2018-04-03","s":"2-ch Day","g":1,"rl":0.16,"rh":0.32,"ml":-0.03,"mh":0.21},
{"d":"2018-04-13","s":"2-ch Day","g":1,"rl":0.17,"rh":0.31,"ml":-0.04,"mh":0.19},
{"d":"2018-04-23","s":"2-ch Day","g":1,"rl":0.16,"rh":0.33,"ml":-0.03,"mh":0.17},
{"d":"2018-05-03","s":"2-ch Day","g":1,"rl":0.17,"rh":0.32,"ml":-0.03,"mh":0.16},
{"d":"2018-05-13","s":"2-ch Day","g":1,"rl":0.18,"rh":0.31,"ml":-0.02,"mh":0.14},
{"d":"2018-05-23","s":"2-ch Day","g":1,"rl":0.16,"rh":0.32,"ml":-0.03,"mh":0.15},
{"d":"2018-06-02","s":"2-ch Day","g":1,"rl":0.17,"rh":0.33,"ml":-0.04,"mh":0.13},
{"d":"2018-06-12","s":"2-ch Day","g":1,"rl":0.16,"rh":0.31,"ml":-0.05,"mh":0.12},
{"d":"2018-06-22","s":"2-ch Day","g":1,"rl":0.17,"rh":0.30,"ml":-0.06,"mh":0.11},
{"d":"2018-07-02","s":"2-ch Day","g":1,"rl":0.16,"rh":0.31,"ml":-0.07,"mh":0.10},
{"d":"2018-07-12","s":"2-ch Day","g":1,"rl":0.17,"rh":0.32,"ml":-0.09,"mh":0.09},
{"d":"2018-07-22","s":"2-ch Day","g":1,"rl":0.15,"rh":0.31,"ml":-0.14,"mh":0.08},
{"d":"2018-08-01","s":"2-ch Day","g":1,"rl":0.16,"rh":0.30,"ml":-0.18,"mh":0.07},
{"d":"2018-08-11","s":"2-ch Day","g":1,"rl":0.15,"rh":0.32,"ml":-0.15,"mh":0.09},
{"d":"2018-08-21","s":"2-ch Day","g":1,"rl":0.16,"rh":0.31,"ml":-0.12,"mh":0.08},
{"d":"2018-08-31","s":"2-ch Day","g":1,"rl":0.14,"rh":0.30,"ml":-0.10,"mh":0.10},
{"d":"2018-09-10","s":"2-ch Day","g":1,"rl":0.15,"rh":0.31,"ml":-0.08,"mh":0.09},
{"d":"2018-09-20","s":"2-ch Day","g":1,"rl":0.10,"rh":0.33,"ml":-0.05,"mh":0.14},
{"d":"2018-09-30","s":"2-ch Day","g":1,"rl":0.11,"rh":0.30,"ml":-0.06,"mh":0.12},
{"d":"2018-10-10","s":"2-ch Day","g":1,"rl":0.16,"rh":0.32,"ml":-0.04,"mh":0.16},
{"d":"2018-10-20","s":"2-ch Day","g":1,"rl":0.15,"rh":0.31,"ml":-0.05,"mh":0.13},
{"d":"2018-10-30","s":"2-ch Day","g":1,"rl":0.16,"rh":0.32,"ml":-0.06,"mh":0.15},
{"d":"2018-11-09","s":"2-ch Day","g":1,"rl":0.15,"rh":0.30,"ml":-0.04,"mh":0.12},
{"d":"2018-11-19","s":"2-ch Day","g":1,"rl":0.16,"rh":0.31,"ml":-0.05,"mh":0.14},
{"d":"2018-11-29","s":"2-ch Day","g":1,"rl":0.15,"rh":0.32,"ml":-0.06,"mh":0.13},
{"d":"2018-12-09","s":"2-ch Day","g":1,"rl":0.16,"rh":0.30,"ml":-0.05,"mh":0.15},
{"d":"2018-12-19","s":"2-ch Day","g":1,"rl":0.15,"rh":0.31,"ml":-0.04,"mh":0.12},
{"d":"2018-12-22","s":"2-ch Day","g":1,"rl":0.15,"rh":0.31,"ml":-0.04,"mh":0.12},
{"d":"2019-01-19","s":"2-ch Day","g":2,"rl":0.12,"rh":0.32,"ml":0.02,"mh":0.34},
{"d":"2019-01-24","s":"2-ch Day","g":2,"rl":0.10,"rh":0.33,"ml":-0.01,"mh":0.22},
{"d":"2019-01-29","s":"2-ch Day","g":2,"rl":0.08,"rh":0.30,"ml":-0.02,"mh":0.12},
{"d":"2019-02-03","s":"2-ch Day","g":2,"rl":0.08,"rh":0.30,"ml":-0.02,"mh":0.08}
],
"srsd": [
{"d":"2016-11-16","s":"2-ch Day","v0":0.30,"v1":0.47,"k":"solid"},
{"d":"2017-06-14","s":"2-ch Day","v0":0.30,"v1":0.52,"k":"solid"},
{"d":"2017-06-24","s":"2-ch Day","v0":0.30,"v1":0.72,"k":"solid"},
{"d":"2017-07-30","s":"2-ch Night","v0":0.34,"v1":0.41,"k":"solid"},
{"d":"2017-12-02","s":"2-ch Night","v0":0.34,"v1":0.44,"k":"solid"},
{"d":"2018-01-18","s":"2-ch Day","v0":0.44,"v1":0.47,"k":"dot"},
{"d":"2018-02-21","s":"2-ch Day","v0":0.30,"v1":0.51,"k":"solid"},
{"d":"2018-07-14","s":"2-ch Night","v0":0.35,"v1":0.47,"k":"solid"},
{"d":"2018-07-29","s":"2-ch Night","v0":0.42,"v1":0.60,"k":"dot"},
{"d":"2018-10-14","s":"2-ch Night","v0":0.35,"v1":0.44,"k":"solid"},
{"d":"2018-11-17","s":"2-ch Night","v0":0.35,"v1":0.44,"k":"solid"},
{"d":"2018-12-21","s":"3-ch Night","v0":0.10,"v1":0.41,"k":"solid"},
{"d":"2019-01-24","s":"2-ch Night","v0":0.30,"v1":0.44,"k":"solid"}
],
"smed": [
{"d":"2016-11-16","s":"2-ch Day","v0":0.00,"v1":-0.35,"k":"solid"},
{"d":"2016-11-23","s":"2-ch Day","v0":0.20,"v1":0.49,"k":"dot"},
{"d":"2017-03-16","s":"2-ch Night","v0":-0.08,"v1":-0.95,"k":"dot"},
{"d":"2017-03-17","s":"2-ch Day","v0":0.22,"v1":0.30,"k":"dot"},
{"d":"2017-06-23","s":"2-ch Day","v0":-0.05,"v1":-0.25,"k":"dot"},
{"d":"2018-01-18","s":"2-ch Day","v0":0.20,"v1":0.45,"k":"dot"},
{"d":"2018-02-15","s":"2-ch Night","v0":-0.05,"v1":-0.20,"k":"solid"},
{"d":"2018-05-23","s":"2-ch Day","v0":0.15,"v1":0.37,"k":"solid"},
{"d":"2018-07-29","s":"2-ch Night","v0":-0.15,"v1":-0.35,"k":"dot"},
{"d":"2018-07-30","s":"2-ch Day","v0":-0.10,"v1":-0.27,"k":"solid"},
{"d":"2018-09-21","s":"2-ch Day","v0":0.15,"v1":0.39,"k":"dot"},
{"d":"2018-10-14","s":"2-ch Day","v0":0.15,"v1":0.27,"k":"solid"},
{"d":"2018-11-16","s":"2-ch Day","v0":0.15,"v1":0.40,"k":"dot"},
{"d":"2018-11-16","s":"2-ch Night","v0":-0.10,"v1":-0.25,"k":"solid"},
{"d":"2018-12-20","s":"2-ch Night","v0":-0.10,"v1":-0.23,"k":"solid"}
],
"zero": [{"d":"2016-07-31","d2":"2019-04-26","z":0}]
},
"layer": [
{
  "encoding": {"x": {"field": "d", "type": "temporal",
    "scale": {"type": "utc", "domain": [{"year":2016,"month":7,"date":31,"utc":true},{"year":2019,"month":4,"date":26,"utc":true}], "range": [196, 1210], "nice": false},
    "axis": {"orient": "top", "offset": -162, "labels": false, "title": null,
      "values": [{"year":2016,"month":11,"date":7,"utc":true},{"year":2017,"month":2,"date":15,"utc":true},{"year":2017,"month":5,"date":26,"utc":true},{"year":2017,"month":9,"date":3,"utc":true},{"year":2017,"month":12,"date":12,"utc":true},{"year":2018,"month":3,"date":22,"utc":true},{"year":2018,"month":6,"date":30,"utc":true},{"year":2018,"month":10,"date":8,"utc":true},{"year":2019,"month":1,"date":16,"utc":true}],
      "tickSize": {"condition": {"test": "abs((datum.value - utc(2017,1,15)) / 86400000) % 200 == 0", "value": -10}, "value": -6}}}},
  "layer": [
    {"data": {"name": "bands"},
     "mark": {"type": "area", "interpolate": "step-after", "opacity": 1},
     "encoding": {
       "y": {"field": "rl", "type": "quantitative", "stack": null,
         "scale": {"domain": [0, 1], "range": [371, 162], "nice": false, "zero": false},
         "axis": {"orient": "left", "offset": -196, "values": [0, 0.5, 1], "labelExpr": "format(datum.value, '.1f')", "labelFlush": true, "labelPadding": 30, "tickSize": -20, "title": "RSD / K", "titlePadding": 22}},
       "y2": {"field": "rh"},
       "color": {"field": "s", "type": "nominal",
         "scale": {"domain": ["2-ch Day", "2-ch Night", "3-ch Night"], "range": ["#ff0000", "#0000ff", "#009b00"]},
         "legend": {"orient": "none", "legendX": 223, "legendY": 922, "direction": "horizontal", "columns": 3, "gridAlign": "all", "columnPadding": 56, "title": null, "symbolType": "M-1,-0.09L1,-0.09L1,0.09L-1,0.09Z", "symbolSize": 4225, "symbolStrokeWidth": 0, "labelFont": "Liberation Serif", "labelFontSize": 39, "labelColor": "black", "labelOffset": 14, "padding": 0, "labelLimit": 400}},
       "detail": {"field": "g", "type": "nominal"}}},
    {"data": {"name": "srsd"},
     "mark": {"type": "rule"},
     "encoding": {
       "y": {"field": "v0", "type": "quantitative"},
       "y2": {"field": "v1"},
       "color": {"field": "s", "type": "nominal", "legend": null},
       "strokeDash": {"field": "k", "type": "nominal", "scale": {"domain": ["solid", "dot"], "range": [[1, 0], [4, 4]]}, "legend": null},
       "strokeWidth": {"field": "k", "type": "ordinal", "scale": {"domain": ["solid", "dot"], "range": [2.5, 4.5]}, "legend": null}}}
  ]
},
{
  "data": {"values": [{"d": "2017-01-01", "v": 0.5}]},
  "mark": {"type": "point", "opacity": 0},
  "encoding": {
    "x": {"field": "d", "type": "temporal",
      "scale": {"type": "utc", "domain": [{"year":2016,"month":7,"date":31,"utc":true},{"year":2019,"month":4,"date":26,"utc":true}], "range": [196, 1210], "nice": false},
      "axis": {"orient": "bottom", "offset": -646, "labels": false, "title": null,
        "values": [{"year":2016,"month":11,"date":7,"utc":true},{"year":2017,"month":2,"date":15,"utc":true},{"year":2017,"month":5,"date":26,"utc":true},{"year":2017,"month":9,"date":3,"utc":true},{"year":2017,"month":12,"date":12,"utc":true},{"year":2018,"month":3,"date":22,"utc":true},{"year":2018,"month":6,"date":30,"utc":true},{"year":2018,"month":10,"date":8,"utc":true},{"year":2019,"month":1,"date":16,"utc":true}],
        "tickSize": {"condition": {"test": "abs((datum.value - utc(2017,1,15)) / 86400000) % 200 == 0", "value": -10}, "value": -6}}},
    "y": {"field": "v", "type": "quantitative",
      "scale": {"domain": [0, 1], "range": [371, 162], "nice": false, "zero": false},
      "axis": {"orient": "right", "offset": -95, "values": [0, 0.5, 1], "labels": false, "tickSize": -20, "title": null}}}
},
{
  "encoding": {"x": {"field": "d", "type": "temporal",
    "scale": {"type": "utc", "domain": [{"year":2016,"month":7,"date":31,"utc":true},{"year":2019,"month":4,"date":26,"utc":true}], "range": [196, 1210], "nice": false},
    "axis": {"orient": "bottom", "offset": -229, "title": "Date", "titlePadding": 0, "labelOverlap": false, "labelFlush": false, "labelPadding": 28,
      "values": [{"year":2016,"month":11,"date":7,"utc":true},{"year":2017,"month":2,"date":15,"utc":true},{"year":2017,"month":5,"date":26,"utc":true},{"year":2017,"month":9,"date":3,"utc":true},{"year":2017,"month":12,"date":12,"utc":true},{"year":2018,"month":3,"date":22,"utc":true},{"year":2018,"month":6,"date":30,"utc":true},{"year":2018,"month":10,"date":8,"utc":true},{"year":2019,"month":1,"date":16,"utc":true}],
      "labelExpr": "abs((datum.value - utc(2017,1,15)) / 86400000) % 200 == 0 ? utcFormat(datum.value, '%-d %b %y') : ''",
      "tickSize": {"condition": {"test": "abs((datum.value - utc(2017,1,15)) / 86400000) % 200 == 0", "value": -10}, "value": -6}}}},
  "layer": [
    {"data": {"name": "bands"},
     "mark": {"type": "area", "interpolate": "step-after", "opacity": 1},
     "encoding": {
       "y": {"field": "ml", "type": "quantitative", "stack": null,
         "scale": {"domain": [-1, 1], "range": [788, 371], "nice": false, "zero": false},
         "axis": {"orient": "left", "offset": -196, "values": [-1, -0.75, -0.5, -0.25, 0, 0.25, 0.5, 0.75, 1],
           "labelExpr": "abs(datum.value * 4) % 2 == 0 ? (datum.value < 0 ? '-' + format(-datum.value, '.1f') : format(datum.value, '.1f')) : ''",
           "labelFlush": true, "labelPadding": 30,
           "tickSize": {"condition": {"test": "abs(datum.value * 4) % 2 == 0", "value": -20}, "value": -10},
           "title": "Median / K", "titlePadding": 22}},
       "y2": {"field": "mh"},
       "color": {"field": "s", "type": "nominal", "legend": null},
       "detail": {"field": "g", "type": "nominal"}}},
    {"data": {"name": "smed"},
     "mark": {"type": "rule"},
     "encoding": {
       "y": {"field": "v0", "type": "quantitative"},
       "y2": {"field": "v1"},
       "color": {"field": "s", "type": "nominal", "legend": null},
       "strokeDash": {"field": "k", "type": "nominal", "scale": {"domain": ["solid", "dot"], "range": [[1, 0], [4, 4]]}, "legend": null},
       "strokeWidth": {"field": "k", "type": "ordinal", "scale": {"domain": ["solid", "dot"], "range": [2.5, 4.5]}, "legend": null}}},
    {"data": {"name": "zero"},
     "mark": {"type": "rule", "color": "black", "strokeWidth": 1.5, "strokeDash": [7, 12]},
     "encoding": {
       "x2": {"field": "d2"},
       "y": {"field": "z", "type": "quantitative"}}}
  ]
},
{
  "data": {"values": [{"d": "2017-01-01", "v": 0.5}]},
  "mark": {"type": "point", "opacity": 0},
  "encoding": {
    "x": {"field": "d", "type": "temporal",
      "scale": {"type": "utc", "domain": [{"year":2016,"month":7,"date":31,"utc":true},{"year":2019,"month":4,"date":26,"utc":true}], "range": [196, 1210], "nice": false},
      "axis": {"orient": "top", "offset": -371, "labels": false, "title": null,
        "values": [{"year":2016,"month":11,"date":7,"utc":true},{"year":2017,"month":2,"date":15,"utc":true},{"year":2017,"month":5,"date":26,"utc":true},{"year":2017,"month":9,"date":3,"utc":true},{"year":2017,"month":12,"date":12,"utc":true},{"year":2018,"month":3,"date":22,"utc":true},{"year":2018,"month":6,"date":30,"utc":true},{"year":2018,"month":10,"date":8,"utc":true},{"year":2019,"month":1,"date":16,"utc":true}],
        "tickSize": {"condition": {"test": "abs((datum.value - utc(2017,1,15)) / 86400000) % 200 == 0", "value": -10}, "value": -6}}},
    "y": {"field": "v", "type": "quantitative",
      "scale": {"domain": [-1, 1], "range": [788, 371], "nice": false, "zero": false},
      "axis": {"orient": "right", "offset": -95, "values": [-1, -0.75, -0.5, -0.25, 0, 0.25, 0.5, 0.75, 1], "labels": false, "title": null,
        "tickSize": {"condition": {"test": "abs(datum.value * 4) % 2 == 0", "value": -20}, "value": -10}}}}
}
],
"resolve": {"scale": {"x": "independent", "y": "independent"}, "axis": {"x": "independent", "y": "independent"}}
}
